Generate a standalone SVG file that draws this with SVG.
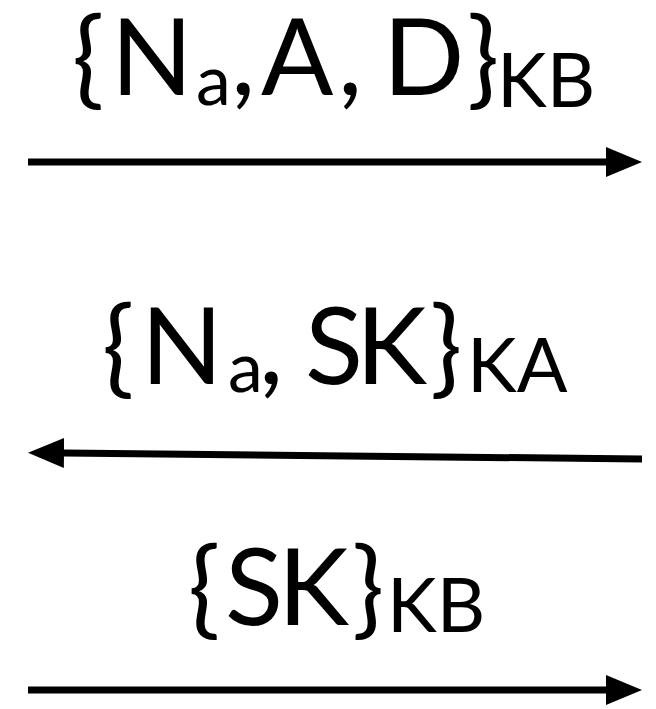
<svg xmlns="http://www.w3.org/2000/svg" width="656" height="709" viewBox="0 0 656 709">
<style>
.t{font-family:Lato,"Open Sans","Liberation Sans",sans-serif;fill:#000}
.m{font-size:107px}
.s{font-size:75px}
.a{font-size:70px}
.c{stroke:#000;stroke-width:7;fill:none}
</style>
<defs>
<marker id="ah" viewBox="0 0 36 30" refX="0" refY="15" markerWidth="36" markerHeight="30" markerUnits="userSpaceOnUse" orient="auto">
<path d="M0,0 L36,15 L0,30 Z" fill="#000"/>
</marker>
</defs>
<rect width="656" height="709" fill="#fff"/>
<g id="label1">
<text class="t"><tspan class="m" x="72" y="95">{</tspan><tspan class="m" x="111" y="95">N</tspan><tspan class="a" x="196" y="105">a</tspan><tspan class="m" x="231" y="95">,</tspan><tspan class="m" x="261" y="95">A</tspan><tspan class="m" x="338" y="95">,</tspan><tspan class="m" x="383" y="95">D</tspan><tspan class="m" x="467" y="95">}</tspan><tspan class="s" x="497" y="107">KB</tspan></text>
</g>
<g id="label2">
<text class="t"><tspan class="m" x="102" y="384">{</tspan><tspan class="m" x="141" y="384">N</tspan><tspan class="a" x="228" y="392">a</tspan><tspan class="m" x="259" y="384">,</tspan><tspan class="m" x="305" y="384">S</tspan><tspan class="m" x="356" y="384">K</tspan><tspan class="m" x="430" y="384">}</tspan><tspan class="s" x="467" y="392">KA</tspan></text>
</g>
<g id="label3">
<text class="t"><tspan class="m" x="188" y="625">{</tspan><tspan class="m" x="225" y="625">S</tspan><tspan class="m" x="278" y="625">K</tspan><tspan class="m" x="352" y="625">}</tspan><tspan class="s" x="387" y="632">KB</tspan></text>
</g>
<g id="connectors">
<line class="c" x1="28" y1="162" x2="606" y2="162" marker-end="url(#ah)"/>
<line class="c" x1="642" y1="459" x2="64" y2="453" marker-end="url(#ah)"/>
<line class="c" x1="28" y1="690" x2="606" y2="690" marker-end="url(#ah)"/>
</g>
</svg>
